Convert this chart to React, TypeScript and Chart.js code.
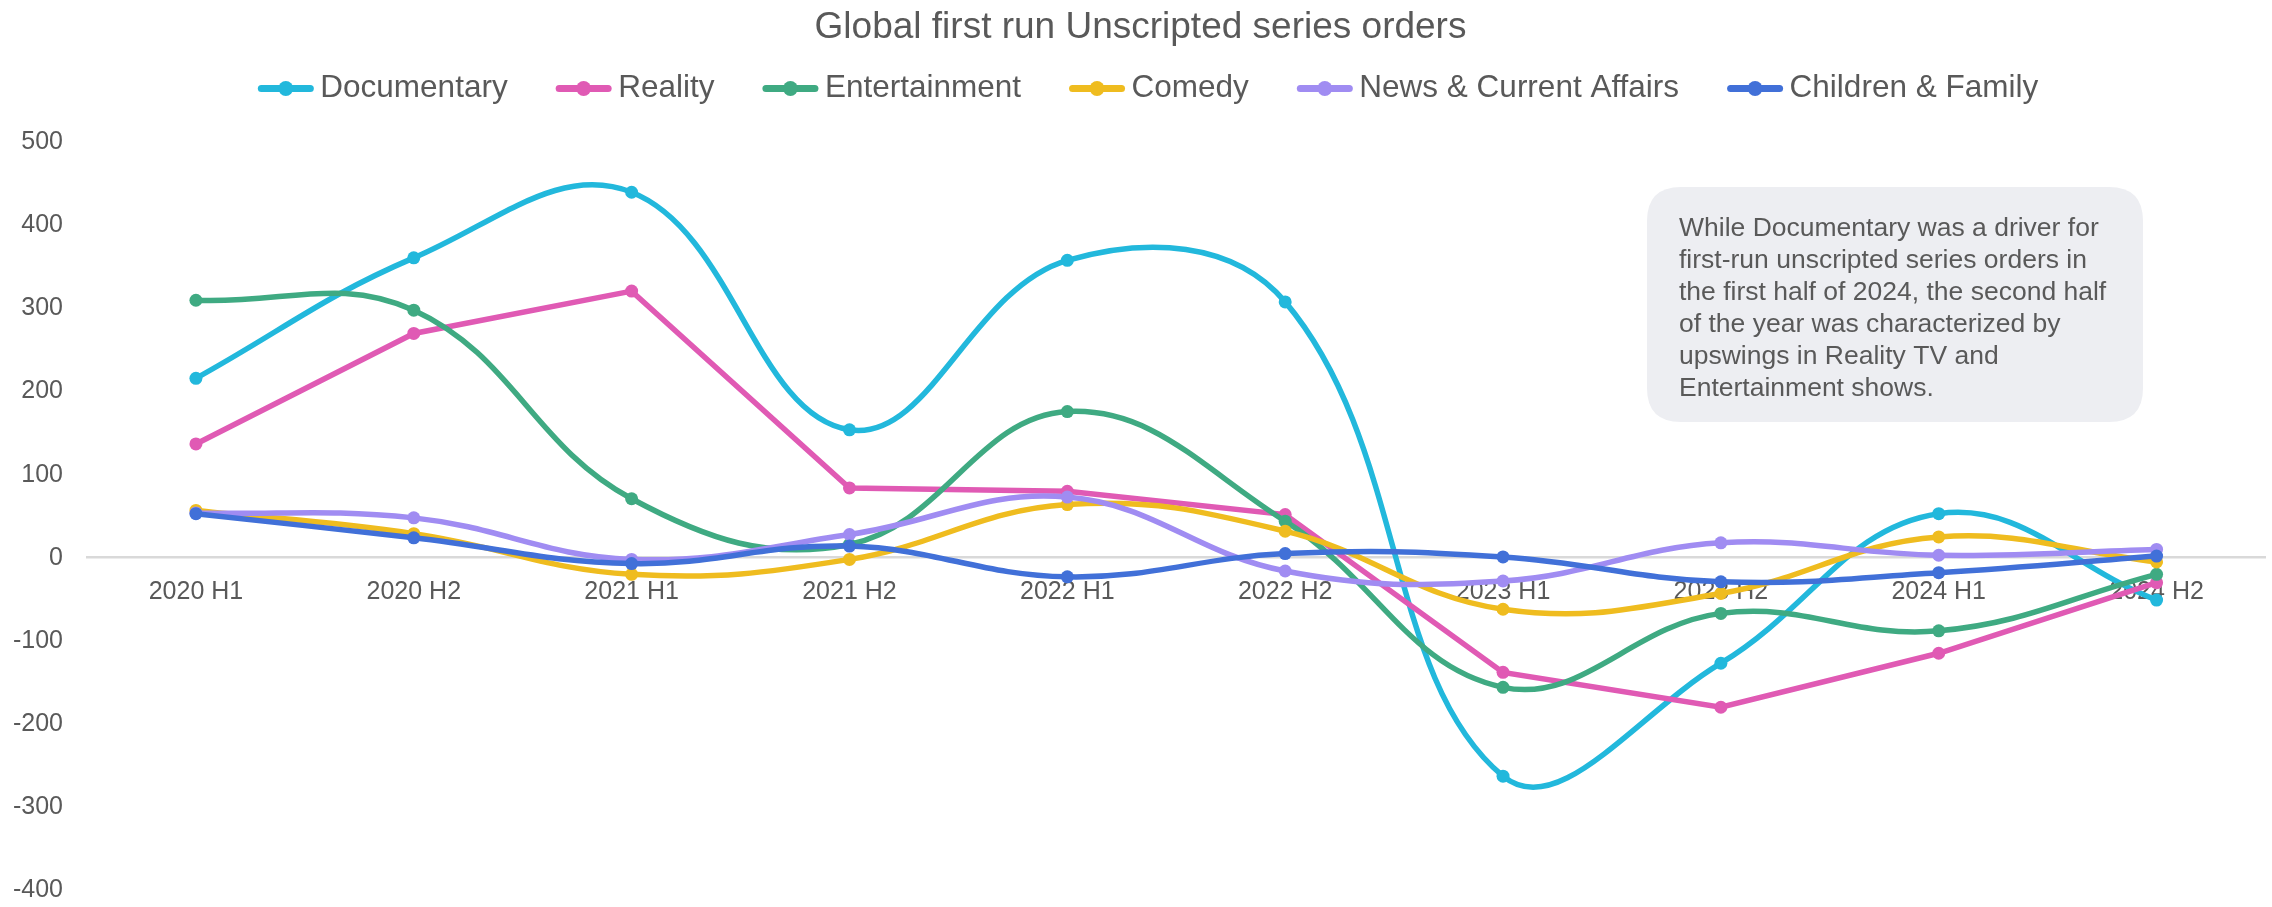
import React, { useEffect, useRef } from "react";
import { Chart, registerables } from "chart.js";

Chart.register(...registerables);

const FONT = "'Liberation Sans', Arial, Helvetica, sans-serif";
const TEXT = "#595959";

const titleText = "Global first run Unscripted series orders";

const categories = [
  "2020 H1", "2020 H2", "2021 H1", "2021 H2", "2022 H1",
  "2022 H2", "2023 H1", "2023 H2", "2024 H1", "2024 H2",
];

const seriesNames = [
  "Documentary",
  "Reality",
  "Entertainment",
  "Comedy",
  "News & Current Affairs",
  "Children & Family",
];

const documentary = [216, 361, 440, 154, 358, 308, -263, -127, 53, -51];
const reality = [137, 270, 321, 84, 80, 52, -138, -180, -115, -30];
const entertainment = [310, 298, 71, 16, 176, 44, -156, -67, -88, -20];
const comedy = [57, 29, -20, -2, 64, 32, -62, -43, 25, -5];
const news = [54, 48, -2, 28, 73, -16, -28, 18, 3, 10];
const children = [53, 24, -7, 14, -23, 5, 1, -29, -18, 2];

const seriesValues = [documentary, reality, entertainment, comedy, news, children];
const seriesColors = ["#22B8DC", "#E05AB4", "#3FAA82", "#EFBC1F", "#A08CF2", "#4170D8"];
const seriesTension = [0.4, 0, 0.4, 0.4, 0.4, 0.4];

const yMin = -400;
const yMax = 500;
const yStep = 100;

const noteLines = [
  "While Documentary was a driver for",
  "first-run unscripted series orders in",
  "the first half of 2024, the second half",
  "of the year was characterized by",
  "upswings in Reality TV and",
  "Entertainment shows.",
];

const legendPlugin = {
  id: "lineDotLegend",
  afterDraw(chart: any) {
    const ctx = chart.ctx as CanvasRenderingContext2D;
    ctx.save();
    ctx.font = `31.5px ${FONT}`;
    const lineLen = 56;
    const gapText = 6.5;
    const gapItem = 48;
    const widths = seriesNames.map((n) => ctx.measureText(n).width);
    const total =
      widths.reduce((a, w) => a + lineLen + gapText + w, 0) + gapItem * (seriesNames.length - 1);
    let x = chart.width / 2 + 12 - total / 2;
    const y = 88.5;
    seriesNames.forEach((name, i) => {
      const c = seriesColors[i];
      ctx.strokeStyle = c;
      ctx.lineWidth = 7;
      ctx.lineCap = "round";
      ctx.beginPath();
      ctx.moveTo(x + 3.5, y);
      ctx.lineTo(x + lineLen - 3.5, y);
      ctx.stroke();
      ctx.fillStyle = c;
      ctx.beginPath();
      ctx.arc(x + lineLen / 2, y, 7.5, 0, Math.PI * 2);
      ctx.fill();
      ctx.fillStyle = TEXT;
      ctx.textAlign = "left";
      ctx.textBaseline = "middle";
      ctx.fillText(name, x + lineLen + gapText, y);
      x += lineLen + gapText + widths[i] + gapItem;
    });
    ctx.restore();
  },
};

function roundRect(ctx: CanvasRenderingContext2D, x: number, y: number, w: number, h: number, r: number) {
  ctx.beginPath();
  ctx.moveTo(x + r, y);
  ctx.lineTo(x + w - r, y);
  ctx.quadraticCurveTo(x + w, y, x + w, y + r);
  ctx.lineTo(x + w, y + h - r);
  ctx.quadraticCurveTo(x + w, y + h, x + w - r, y + h);
  ctx.lineTo(x + r, y + h);
  ctx.quadraticCurveTo(x, y + h, x, y + h - r);
  ctx.lineTo(x, y + r);
  ctx.quadraticCurveTo(x, y, x + r, y);
  ctx.closePath();
}

const notePlugin = {
  id: "noteBox",
  afterDraw(chart: any) {
    const ctx = chart.ctx as CanvasRenderingContext2D;
    ctx.save();
    const bx = 1647;
    const by = 187;
    const bw = 496;
    const bh = 235;
    roundRect(ctx, bx, by, bw, bh, 34);
    ctx.fillStyle = "#EDEEF2";
    ctx.fill();
    ctx.font = `26.5px ${FONT}`;
    ctx.fillStyle = TEXT;
    ctx.textAlign = "left";
    ctx.textBaseline = "middle";
    noteLines.forEach((line, i) => {
      ctx.fillText(line, bx + 32, by + 42 + i * 32);
    });
    ctx.restore();
  },
};

export default function App() {
  const canvasRef = useRef<HTMLCanvasElement | null>(null);

  useEffect(() => {
    document.body.style.margin = "0";
    const canvas = canvasRef.current;
    if (!canvas) return;
    const chart = new Chart(canvas, {
      type: "line",
      data: {
        labels: categories,
        datasets: seriesNames.map((name, i) => ({
          label: name,
          data: seriesValues[i],
          borderColor: seriesColors[i],
          backgroundColor: seriesColors[i],
          pointBackgroundColor: seriesColors[i],
          pointBorderWidth: 0,
          pointRadius: 6.5,
          borderWidth: 5.5,
          tension: seriesTension[i],
          fill: false,
          order: seriesNames.length - i,
        })),
      },
      options: {
        responsive: false,
        animation: false,
        devicePixelRatio: 1,
        layout: { padding: { left: 13, right: 4, top: 0, bottom: 17 } },
        plugins: {
          legend: { display: false },
          tooltip: { enabled: false },
          title: {
            display: true,
            text: titleText,
            color: TEXT,
            font: { family: FONT, size: 37, weight: "normal" },
            padding: { top: 6, bottom: 92 },
          },
        },
        scales: {
          x: {
            type: "category",
            position: { y: 0 },
            offset: true,
            grid: { display: true, color: "rgba(0,0,0,0)", drawTicks: false },
            border: { display: true, color: "#D9D9D9", width: 2.5 },
            ticks: {
              color: TEXT,
              font: { family: FONT, size: 25 },
              padding: 19,
              maxRotation: 0,
              minRotation: 0,
              autoSkip: false,
            },
            afterFit: (scale: any) => {
              scale.height = 0;
              scale.paddingLeft = 0;
              scale.paddingRight = 0;
              scale.paddingTop = 0;
              scale.paddingBottom = 0;
            },
          },
          y: {
            min: yMin,
            max: yMax,
            grid: { display: false, drawTicks: false },
            border: { display: false },
            ticks: {
              stepSize: yStep,
              color: TEXT,
              font: { family: FONT, size: 25 },
              padding: 24,
            },
            afterFit: (scale: any) => {
              scale.width = 74;
              scale.paddingTop = 15;
              scale.paddingBottom = 15;
            },
          },
        },
      },
      plugins: [legendPlugin, notePlugin],
    } as any);
    return () => chart.destroy();
  }, []);

  return (
    <div style={{ width: 2272, height: 907 }}>
      <canvas ref={canvasRef} width={2272} height={907} style={{ display: "block" }} />
    </div>
  );
}
